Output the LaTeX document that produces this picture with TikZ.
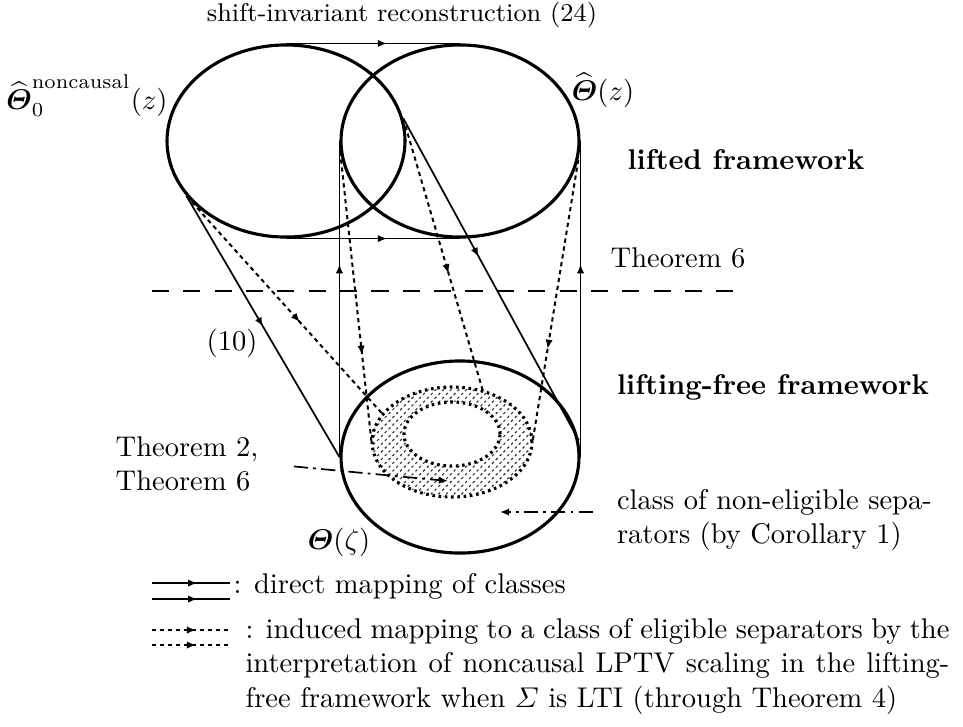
\documentclass[tikz,border=0pt]{standalone}
\usepackage{amsmath,amssymb}
\usetikzlibrary{arrows.meta,shapes.geometric,patterns.meta,decorations.markings}

\tikzset{
  classset/.style={draw,ellipse,line width=1.1pt,inner sep=0pt,minimum width=83.5pt,minimum height=67.4pt},
  ringset/.style={draw,ellipse,line width=1.1pt,dash pattern=on 0.9pt off 1.3pt,inner sep=0pt},
  midarrow/.style={postaction={decorate},decoration={markings,mark=at position #1 with {\arrow{Latex[length=3.2pt,width=2.6pt]}}}},
  direct/.style={line width=0.6pt,midarrow=#1},
  induced/.style={line width=0.7pt,dash pattern=on 1.5pt off 1.3pt,midarrow=#1},
  pointer/.style={line width=0.6pt,dash pattern=on 5pt off 1.8pt on 1pt off 1.8pt,-{Latex[length=3.2pt,width=2.6pt]}},
}

\begin{document}
\begin{tikzpicture}[x=0.3509pt,y=-0.3509pt]
\useasboundingbox (0,0) rectangle (963,726);
% classes of separators
\node[classset] (L) at (286,141) {};
\node[classset] (R) at (460,141) {};
\node[classset] (B) at (460,457) {};
\node[ringset,minimum width=56.1pt,minimum height=38.6pt,pattern={Lines[angle=45,distance=1.9pt,line width=0.4pt]},pattern color=black!80] (H) at (452,442) {};
\node[ringset,minimum width=33.7pt,minimum height=22.5pt,fill=white] (I) at (452,434) {};
% lifted / lifting-free
\draw[line width=1pt,dash pattern=on 6pt off 5pt] (152,291) -- (737,291);
% direct mappings
\draw[direct=0.58] (L.north) -- (R.north);
\draw[direct=0.58] (L.south) -- (R.south);
\draw[direct=0.5] (L.209) -- (B.west);
\draw[direct=0.43] (L.11) -- (B.8);
\draw[direct=0.61] (B.west) -- (R.west);
\draw[direct=0.61] (B.east) -- (R.east);
% induced mappings
\draw[induced=0.58] (L.209) -- (H.158);
\draw[induced=0.7] (R.185) -- (H.west);
\draw[induced=0.57] (L.11) -- (H.59);
\draw[induced=0.67] (R.-9) -- (H.east);
% labels
\node[font=\small] (title) at (402,15) {shift-invariant reconstruction (24)};
\node[anchor=east,inner sep=0pt] (noncausal) at (168,96) {$\widehat{\boldsymbol{\varTheta}}_0^{\mathrm{noncausal}}(z)$};
\node (thetaz) at (603,90) {$\widehat{\boldsymbol{\varTheta}}(z)$};
\node[font=\bfseries] (lifted) at (746,160) {lifted framework};
\node (thm6) at (678,258) {Theorem 6};
\node (eq10) at (232,343) {(10)};
\node[font=\bfseries] (free) at (773,387) {lifting-free framework};
\node[align=left] (thm26) at (187,464) {Theorem 2,\\Theorem 6};
\node[align=left,anchor=west] (corol) at (607,520) {class of non-eligible sepa-\\rators (by Corollary 1)};
\node (thetazeta) at (339,542) {$\boldsymbol{\varTheta}(\zeta)$};
\coordinate (t26head) at (448,481);
\coordinate (corhead) at (500,512);
\draw[pointer,shorten <=9pt] (thm26.east) -- (t26head);
\draw[pointer,shorten <=5pt] (corol.west |- corhead) -- (corhead);
% legend
\draw[direct=0.58] (152,583) -- (230,583);
\draw[direct=0.58] (152,599) -- (230,599);
\node[anchor=base west,inner sep=0pt] (legdirect) at (233,593) {: direct mapping of classes};
\draw[induced=0.58] (152,630) -- (228,630);
\draw[induced=0.58] (152,645) -- (228,645);
\node[anchor=north west,inner sep=0pt,text width=247pt,align=justify] (leginduced) at (245,618)
  {: induced mapping to a class of eligible separators by the\linebreak
   interpretation of noncausal LPTV scaling in the lifting-\linebreak
   free framework when $\varSigma$ is LTI (through Theorem 4)};
\end{tikzpicture}
\end{document}
